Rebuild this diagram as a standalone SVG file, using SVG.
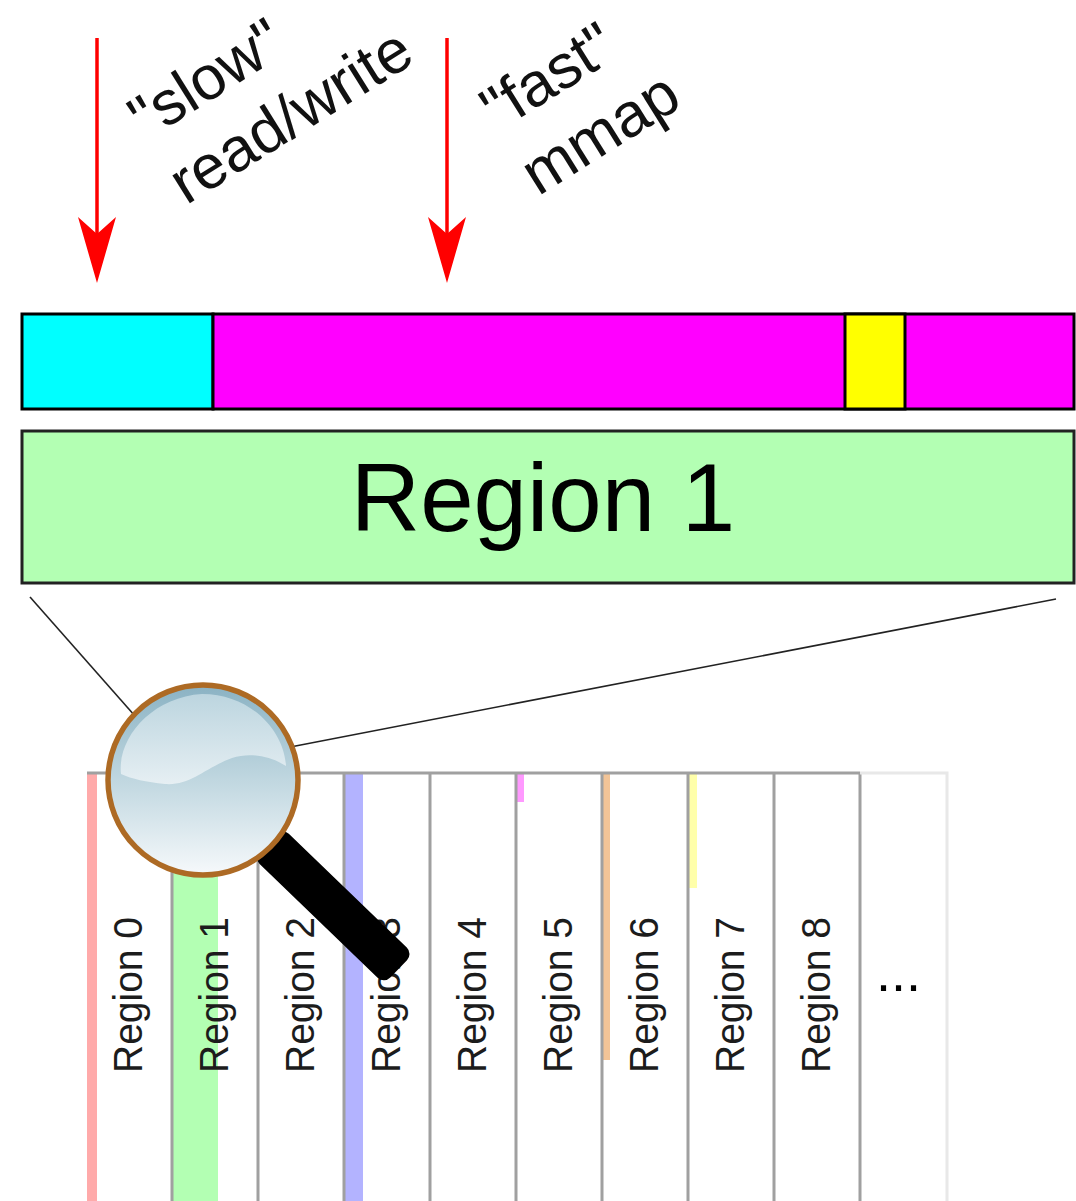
<svg xmlns="http://www.w3.org/2000/svg" width="1076" height="1201" viewBox="0 0 1076 1201">
  <style>
    .lbl { font-family: "Liberation Sans", Arial, sans-serif; fill: #000; }
    .col-label { font-size: 41px; fill: #1c1c1c; }
    .note { font-size: 62px; fill: #111; }
    .seg { stroke: #000; stroke-width: 3; }
    .col-line { stroke: #a0a0a0; stroke-width: 3; fill: none; }
    .col-line-faint { stroke: #e8e8e8; stroke-width: 3; fill: none; }
    .arrow { stroke: #ff0000; stroke-width: 3.5; fill: none; marker-end: url(#redHead); }
    .zoom-line { stroke: #222; stroke-width: 1.6; fill: none; }
  </style>
  <defs>
    <marker id="redHead" markerUnits="userSpaceOnUse" markerWidth="70" markerHeight="40"
            viewBox="0 -20 70 40" refX="33" refY="0" orient="auto">
      <path d="M66,0 L0,-19 L17,0 L0,19 Z" fill="#ff0000"/>
    </marker>
    <linearGradient id="lensFill" x1="0" y1="0" x2="0" y2="1">
      <stop offset="0" stop-color="#8ab2c3"/>
      <stop offset="0.5" stop-color="#c0d7e0"/>
      <stop offset="1" stop-color="#f6f9fb"/>
    </linearGradient>
    <linearGradient id="lensShine" x1="0" y1="0" x2="0" y2="1">
      <stop offset="0" stop-color="#bcd5df"/>
      <stop offset="1" stop-color="#e6eff3"/>
    </linearGradient>
  </defs>

  <rect width="1076" height="1201" fill="#fff"/>

  <!-- Overview of all regions -->
  <g id="region-columns">
    <rect x="87" y="773" width="10" height="428" fill="#ffaaaa"/>
    <rect x="172" y="773" width="46" height="428" fill="#b3ffb3"/>
    <rect x="344" y="773" width="19" height="428" fill="#b3b3ff"/>
    <rect x="516" y="773" width="8" height="29" fill="#ff99ff"/>
    <rect x="602" y="773" width="8" height="287" fill="#f2c497"/>
    <rect x="688" y="773" width="9" height="115" fill="#ffffaa"/>
    <path class="col-line" d="M87,773 H860 M172,773 V1201 M258,773 V1201 M344,773 V1201 M430,773 V1201 M516,773 V1201 M602,773 V1201 M688,773 V1201 M774,773 V1201 M860,773 V1201"/>
    <path class="col-line-faint" d="M860,773 H947 V1201"/>
    <g class="lbl col-label">
      <text transform="translate(142,1073) rotate(-90)" textLength="156" lengthAdjust="spacingAndGlyphs">Region 0</text>
      <text transform="translate(228,1073) rotate(-90)" textLength="156" lengthAdjust="spacingAndGlyphs">Region 1</text>
      <text transform="translate(314,1073) rotate(-90)" textLength="156" lengthAdjust="spacingAndGlyphs">Region 2</text>
      <text transform="translate(400,1073) rotate(-90)" textLength="156" lengthAdjust="spacingAndGlyphs">Region 3</text>
      <text transform="translate(486,1073) rotate(-90)" textLength="156" lengthAdjust="spacingAndGlyphs">Region 4</text>
      <text transform="translate(572,1073) rotate(-90)" textLength="156" lengthAdjust="spacingAndGlyphs">Region 5</text>
      <text transform="translate(658,1073) rotate(-90)" textLength="156" lengthAdjust="spacingAndGlyphs">Region 6</text>
      <text transform="translate(744,1073) rotate(-90)" textLength="156" lengthAdjust="spacingAndGlyphs">Region 7</text>
      <text transform="translate(830,1073) rotate(-90)" textLength="156" lengthAdjust="spacingAndGlyphs">Region 8</text>
    </g>
    <text class="lbl" x="876" y="991" font-size="54" fill="#1c1c1c">...</text>
  </g>

  <!-- Contents of one region -->
  <g id="region-bar">
    <rect class="seg" x="22" y="314" width="191" height="95" fill="#00ffff"/>
    <rect class="seg" x="213" y="314" width="861" height="95" fill="#ff00ff"/>
    <rect class="seg" x="845" y="314" width="60" height="95" fill="#ffff00"/>
  </g>

  <g id="region-1-box">
    <rect x="22" y="431" width="1052" height="152" fill="#b3ffb3" stroke="#222" stroke-width="3"/>
    <text class="lbl" x="543" y="531" font-size="96" text-anchor="middle">Region 1</text>
  </g>

  <!-- Access labels -->
  <g id="label-slow" class="lbl note" transform="translate(146,141) rotate(-32)">
    <text x="0" y="0">"slow"</text>
    <text x="0" y="76">read/write</text>
  </g>
  <g id="label-fast" class="lbl note" transform="translate(498,132) rotate(-32)">
    <text x="0" y="0">"fast"</text>
    <text x="0" y="76">mmap</text>
  </g>

  <!-- Connectors -->
  <g id="connectors">
    <line class="arrow" x1="97" y1="38" x2="97" y2="250"/>
    <line class="arrow" x1="447" y1="38" x2="447" y2="250"/>
    <line class="zoom-line" x1="30" y1="597" x2="150" y2="733"/>
    <line class="zoom-line" x1="1056" y1="599" x2="280" y2="749"/>
  </g>

  <!-- Magnifying glass -->
  <g id="magnifier">
    <rect x="90" y="-21" width="182" height="42" rx="9" fill="#000" transform="translate(203,780) rotate(44)"/>
    <circle cx="203" cy="780" r="95" fill="url(#lensFill)" stroke="#ad6a24" stroke-width="5.5"/>
    <path d="M121,774 C117,738 152,697 202,694 C250,694 284,730 286,766 C270,756 250,752 232,758 C205,768 190,786 165,784 C146,782 132,779 121,774 Z" fill="url(#lensShine)"/>
  </g>
</svg>
